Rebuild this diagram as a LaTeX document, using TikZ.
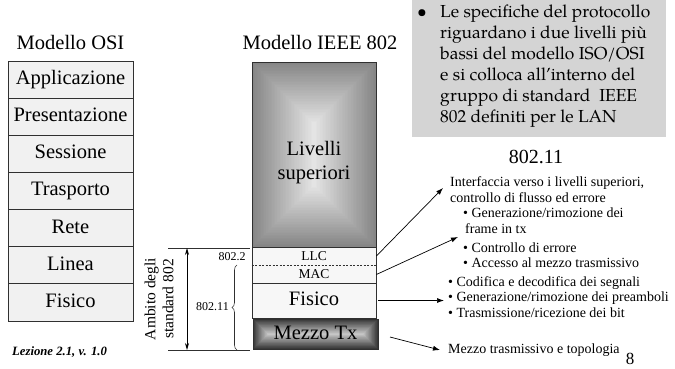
\documentclass[tikz,border=0pt]{standalone}
\usepackage{fontspec}
\setmainfont{Liberation Serif}
\newfontfamily\pala[Extension=.otf,UprightFont=*-regular]{texgyrepagella}
\usetikzlibrary{arrows.meta,positioning,decorations.pathreplacing}
\definecolor{osifill}{HTML}{F1F1F1}
\definecolor{lowfill}{HTML}{F7F7F7}
\definecolor{boxgray}{HTML}{D4D4D4}
\definecolor{livout}{HTML}{868686}
\definecolor{livin}{HTML}{E4E4E4}
\definecolor{txout}{HTML}{363636}
\definecolor{txin}{HTML}{C6C6C6}
\definecolor{edge}{HTML}{303030}

\begin{document}
\begin{tikzpicture}[x=1pt, y=-1pt, node distance=37.14pt,
  osi/.style={draw=edge, fill=osifill, line width=0.8pt, minimum width=125pt,
    minimum height=37.14pt, inner sep=0pt, text height=14pt, text depth=4pt,
    font=\fontsize{20.5}{24}\selectfont},
  big/.style={inner sep=0pt, font=\fontsize{20.5}{24}\selectfont},
  small/.style={inner sep=0pt, font=\fontsize{13.5}{15}\selectfont},
  note/.style={anchor=west, inner sep=0pt, font=\fontsize{14}{16}\selectfont},
  tiny/.style={inner sep=0pt, font=\fontsize{12}{14}\selectfont},
  arr/.style={-{Latex[length=7pt,width=5pt]}, line width=0.7pt}]
\useasboundingbox (0,0) rectangle (675,369);

% riquadro grigio in alto a destra
\node[fill=boxgray, minimum width=254pt, minimum height=137pt, anchor=north west, inner sep=0pt] (spec) at (412,0) {};
\node[anchor=north west, inner sep=0pt, align=left, font=\pala\fontsize{17.4}{21}\selectfont] (spectxt) at (440,5)
  {Le specifiche del protocollo\\riguardano i due livelli più\\bassi del modello ISO/OSI\\e si colloca all’interno del\\gruppo di standard\ \ IEEE\\802 definiti per le LAN};
\node[anchor=base, inner sep=0pt, font=\pala\fontsize{17.4}{21}\selectfont] (dot) at (422,17.5) {•};

% modello OSI
\node[big] (osititle) at (70.5,42) {Modello OSI};
\node[osi] (app) at (70.5,79.57) {Applicazione};
\node[osi, below of=app] (pres) {Presentazione};
\node[osi, below of=pres] (sess) {Sessione};
\node[osi, below of=sess] (trasp) {Trasporto};
\node[osi, below of=trasp] (rete) {Rete};
\node[osi, below of=rete] (linea) {Linea};
\node[osi, below of=linea] (fis) {Fisico};

% modello IEEE 802
\node[big] (ieeetitle) at (320,42) {Modello IEEE 802};
\foreach \i in {0,...,39}{
  \pgfmathsetmacro\d{\i/40}
  \pgfmathtruncatemacro\p{100*\i/39}
  \fill[livin!\p!livout] ({314-62*(1-\d)},{154.5-92.5+62*\d}) rectangle ({314+62*(1-\d)},{154.5+92.5-62*\d});
  \fill[txin!\p!txout] ({315.5-62.5+15*\d},{334-15*(1-\d)}) rectangle ({315.5+62.5-15*\d},{334+15*(1-\d)});
}
\node[draw=edge, line width=0.8pt, minimum width=124pt, minimum height=185pt, inner sep=0pt] (liv) at (314,154.5) {};
\node[big, align=center] (livtxt) at (314,163) {Livelli\\superiori};
\node[draw=edge, fill=lowfill, line width=0.8pt, minimum width=124pt, minimum height=36pt, inner sep=0pt] (llcmac) at (314,265) {};
\draw[edge, dashed, dash pattern=on 2pt off 1.5pt] (llcmac.west) -- (llcmac.east);
\node[small] (llc) at (314,256) {LLC};
\node[small] (mac) at (314,274.5) {MAC};
\node[draw=edge, fill=lowfill, line width=0.8pt, minimum width=124pt, minimum height=35pt, inner sep=0pt,
  text height=14pt, text depth=4pt, font=\fontsize{20.5}{24}\selectfont] (fisico) at (314,300.5) {Fisico};
\node[draw=edge, line width=0.8pt, minimum width=125pt, minimum height=30pt, inner sep=0pt,
  text height=14pt, text depth=4pt, font=\fontsize{20.5}{24}\selectfont] (mezzo) at (315.5,334) {Mezzo Tx};

% ambito degli standard
\coordinate (topl) at (168,248);
\coordinate (topr) at (250,248);
\coordinate (botl) at (168,350);
\coordinate (botr) at (250,350);
\coordinate (ambtop) at (187,248);
\coordinate (ambbot) at (187,350);
\coordinate (brbot) at (237,350);
\coordinate (brtop) at (237,265);
\draw[edge, line width=0.7pt] (topl) -- (topr);
\draw[edge, line width=0.7pt] (botl) -- (botr);
\draw[{Stealth[length=7pt,width=4pt]}-{Stealth[length=7pt,width=4pt]}, line width=0.7pt] (ambtop) -- (ambbot);
\node[rotate=90, align=center, inner sep=0pt, font=\fontsize{15.5}{18}\selectfont] (ambito) at (159,299) {Ambito degli\\standard 802};
\draw[edge, line width=0.6pt, decorate, decoration={brace, amplitude=5pt}] (brbot) -- (brtop);
\node[tiny, anchor=east] (l80211) at (229,307) {802.11};
\node[tiny] (l8022) at (232,257) {802.2};

% note a destra
\node[inner sep=0pt, font=\fontsize{20}{24}\selectfont] (head) at (536,157) {802.11};
\node[note] (n1) at (450,183) {Interfaccia verso i livelli superiori,};
\node[note] (n2) at (450,198) {controllo di flusso ed errore};
\node[note] (n3) at (463,213) {• Generazione/rimozione dei};
\node[note] (n4) at (465,229) {frame in tx};
\node[note] (n5) at (463,248) {• Controllo di errore};
\node[note] (n6) at (463,263) {• Accesso al mezzo trasmissivo};
\node[note] (n7) at (448,283) {• Codifica e decodifica dei segnali};
\node[note] (n8) at (448,298) {• Generazione/rimozione dei preamboli};
\node[note] (n9) at (448,313) {• Trasmissione/ricezione dei bit};
\node[note] (n10) at (448,350) {Mezzo trasmissivo e topologia};
\coordinate (a1) at (443,188);
\coordinate (a2) at (458,237);
\draw[arr] (llcmac.east |- llc) -- (a1);
\draw[arr] (llcmac.east |- mac) -- (a2);
\draw[arr, shorten <=2pt, shorten >=4pt] (fisico.east) -- (fisico.east -| n8.west);
\draw[arr, shorten <=12pt] (mezzo.east) -- ([xshift=-8pt]n10.west);

\node[anchor=west, inner sep=0pt, font=\bfseries\itshape\fontsize{12.7}{14}\selectfont] (lez) at (12,352) {Lezione 2.1, v. 1.0};
\node[inner sep=0pt, font=\fontsize{17}{20}\selectfont] (pnum) at (630,359) {8};
\end{tikzpicture}
\end{document}
